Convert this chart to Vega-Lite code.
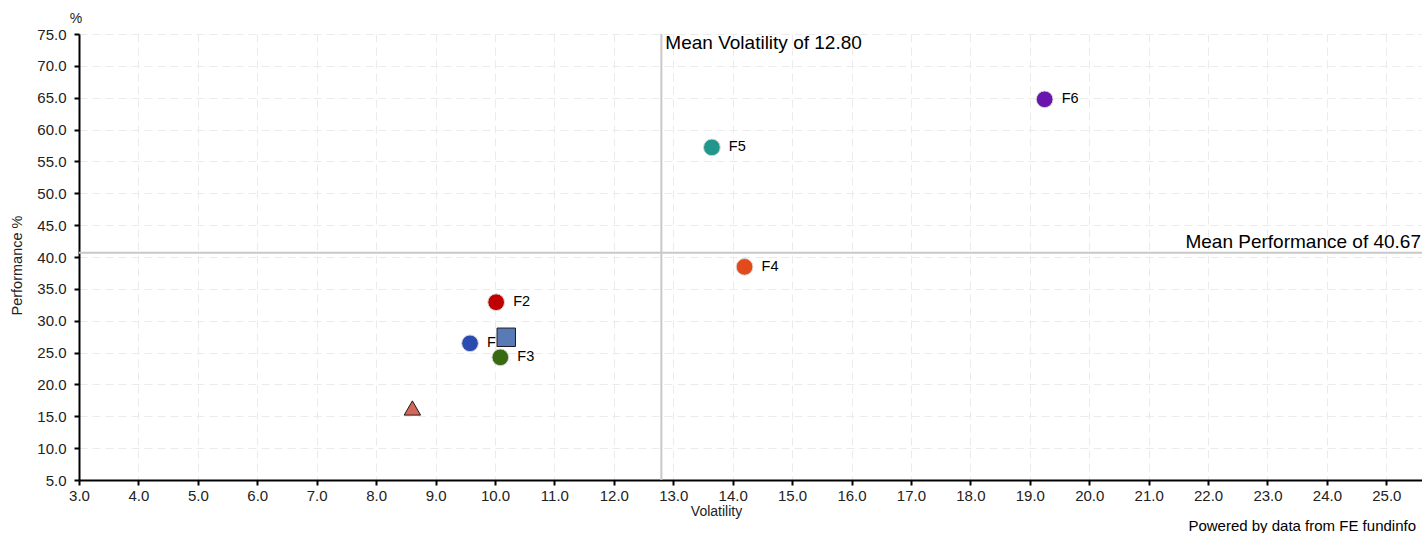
{
  "$schema": "https://vega.github.io/schema/vega-lite/v6.json",
  "width": 1343,
  "height": 446,
  "autosize": "none",
  "padding": {"left": 79, "top": 34, "right": 0, "bottom": 53},
  "background": "white",
  "config": {
    "font": "Liberation Sans",
    "view": {"stroke": null},
    "axis": {
      "domainColor": "#000000",
      "domainWidth": 2,
      "tickColor": "#000000",
      "tickWidth": 2,
      "tickSize": 5,
      "labelFontSize": 15,
      "labelFlush": false,
      "labelOverlap": false,
      "labelColor": "#222222",
      "labelFont": "Liberation Sans",
      "titleFont": "Liberation Sans",
      "titleFontSize": 14,
      "titleFontWeight": "normal",
      "titleColor": "#222222",
      "gridColor": "#ebebeb",
      "gridDash": [8, 5],
      "gridWidth": 1
    }
  },
  "title": {
    "text": "Powered by data from FE fundinfo",
    "orient": "bottom",
    "anchor": "end",
    "frame": "group",
    "fontSize": 15,
    "fontWeight": "normal",
    "color": "#000000",
    "offset": 1,
    "dx": -6
  },
  "datasets": {
    "funds": [
      {"name": "F1", "volatility": 9.58, "performance": 26.45},
      {"name": "F2", "volatility": 10.02, "performance": 32.9},
      {"name": "F3", "volatility": 10.09, "performance": 24.25},
      {"name": "F4", "volatility": 14.2, "performance": 38.45},
      {"name": "F5", "volatility": 13.65, "performance": 57.2},
      {"name": "F6", "volatility": 19.25, "performance": 64.75}
    ],
    "square": [{"name": "Sector", "volatility": 10.19, "performance": 27.4}],
    "triangle": [{"name": "Index", "volatility": 8.61, "performance": 16.3}],
    "means": [{"volatility": 12.8, "performance": 40.67}]
  },
  "encoding": {
    "x": {
      "field": "volatility",
      "type": "quantitative",
      "scale": {"domain": [3, 25.6], "nice": false, "zero": false},
      "axis": {
        "title": "Volatility",
        "values": [3,4,5,6,7,8,9,10,11,12,13,14,15,16,17,18,19,20,21,22,23,24,25],
        "format": ".1f",
        "labelPadding": 3,
        "titleX": 637,
        "titleY": 31,
        "titleBaseline": "middle"
      }
    },
    "y": {
      "field": "performance",
      "type": "quantitative",
      "scale": {"domain": [5, 75], "nice": false, "zero": false},
      "axis": {
        "title": "Performance %",
        "titleFontSize": 14.5,
        "values": [5,10,15,20,25,30,35,40,45,50,55,60,65,70,75],
        "format": ".1f",
        "labelPadding": 8,
        "titleX": -62,
        "titleY": 231,
        "titleBaseline": "middle"
      }
    }
  },
  "layer": [
    {
      "data": {"name": "means"},
      "mark": {"type": "rule", "color": "#c8c8c8", "strokeWidth": 2},
      "encoding": {
        "y": {"datum": 5, "type": "quantitative"},
        "y2": {"datum": 75}
      }
    },
    {
      "data": {"name": "means"},
      "mark": {"type": "rule", "color": "#c8c8c8", "strokeWidth": 2},
      "encoding": {
        "x": {"datum": 3, "type": "quantitative"},
        "x2": {"datum": 25.6}
      }
    },
    {
      "data": {"name": "funds"},
      "mark": {"type": "circle", "size": 280, "opacity": 1, "stroke": "#d9d9d9", "strokeWidth": 1},
      "encoding": {
        "color": {
          "field": "name",
          "type": "nominal",
          "scale": {
            "domain": ["F1", "F2", "F3", "F4", "F5", "F6"],
            "range": ["#2a4cb0", "#c00000", "#386a12", "#e24a1c", "#21968a", "#6a14b0"]
          },
          "legend": null
        }
      }
    },
    {
      "data": {"name": "funds"},
      "mark": {"type": "text", "align": "left", "baseline": "middle", "dx": 17, "fontSize": 14.5, "color": "#000000"},
      "encoding": {"text": {"field": "name"}}
    },
    {
      "data": {"name": "square"},
      "mark": {"type": "square", "size": 340, "opacity": 1, "color": "#5a7ab5", "stroke": "#1a1a2a", "strokeWidth": 1}
    },
    {
      "data": {"name": "triangle"},
      "mark": {"type": "point", "shape": "triangle-up", "filled": true, "size": 270, "opacity": 1, "fill": "#d4665a", "stroke": "#1a1a1a", "strokeWidth": 1}
    },
    {
      "data": {"name": "means"},
      "mark": {"type": "text", "text": "Mean Volatility of 12.80", "align": "left", "baseline": "top", "dx": 4, "dy": 0, "fontSize": 19, "color": "#000000"},
      "encoding": {"y": {"datum": 75, "type": "quantitative"}}
    },
    {
      "data": {"name": "means"},
      "mark": {"type": "text", "text": "Mean Performance of 40.67", "align": "right", "baseline": "bottom", "dx": -1, "dy": -1, "fontSize": 19, "color": "#000000"},
      "encoding": {"x": {"datum": 25.6, "type": "quantitative"}}
    },
    {
      "data": {"name": "means"},
      "mark": {"type": "text", "text": "%", "align": "center", "baseline": "bottom", "dx": -3, "dy": -8, "fontSize": 14, "color": "#222222"},
      "encoding": {
        "x": {"datum": 3, "type": "quantitative"},
        "y": {"datum": 75, "type": "quantitative"}
      }
    }
  ]
}
